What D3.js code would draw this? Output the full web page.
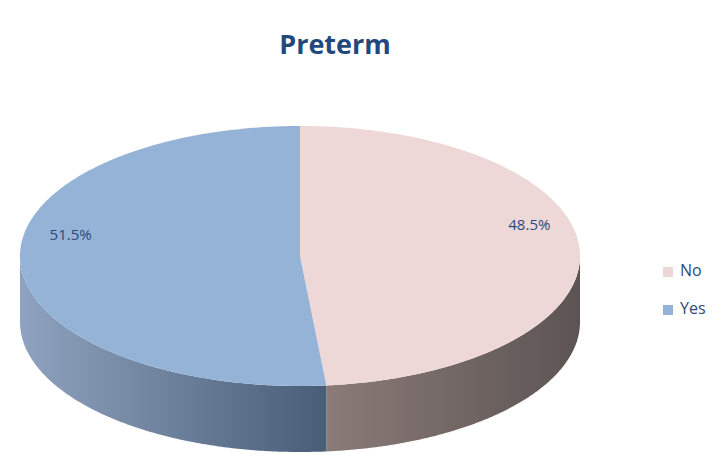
<!DOCTYPE html>
<html>
<head>
<meta charset="utf-8">
<script src="https://cdn.jsdelivr.net/npm/d3@7"></script>
<style>
  body { margin: 0; background: #fff; }
  text { font-family: "Open Sans", "Liberation Sans", sans-serif; }
</style>
</head>
<body>
<div id="chart"></div>
<script>
// Data
const title = 'Preterm';
const categories = ['No', 'Yes'];
const values = [48.5, 51.5];
const topColors = ['#eed8d7', '#95b3d7'];
const sideLight = ['#8a7b78', '#8fa3c0'];
const sideDark = ['#5c5453', '#4a5d77'];

const width = 722, height = 466;
const cx = 300, cy = 256, rx = 280, ry = 130, depth = 66;

const svg = d3.select('#chart').append('svg')
    .attr('width', width)
    .attr('height', height);

const defs = svg.append('defs');

const pie = d3.pie().sort(null).value(d => d.value);
const arcs = pie(categories.map((c, i) => ({ name: c, value: values[i], i })));

// point on the ellipse, angle clockwise from 12 o'clock
const pt = (a, r = 1, dy = 0) => [cx + rx * r * Math.sin(a), cy - ry * r * Math.cos(a) + dy];
const samples = (a0, a1, dy = 0) => {
    const n = Math.max(2, Math.ceil((a1 - a0) / 0.01));
    return d3.range(n + 1).map(k => pt(a0 + (a1 - a0) * k / n, 1, dy));
};
const line = d3.line();

// side walls (only the front half is visible)
arcs.forEach(d => {
    const a0 = Math.max(d.startAngle, Math.PI / 2);
    const a1 = Math.min(d.endAngle, Math.PI * 3 / 2);
    if (a1 <= a0) return;
    const top = samples(a0, a1);
    const bottom = samples(a0, a1, depth).reverse();
    const xs = top.map(p => p[0]);
    const x0 = d3.min(xs), x1 = d3.max(xs);
    const id = 'side' + d.data.i;
    const g = defs.append('linearGradient')
        .attr('id', id)
        .attr('gradientUnits', 'userSpaceOnUse')
        .attr('x1', x0).attr('x2', x1).attr('y1', 0).attr('y2', 0);
    g.append('stop').attr('offset', 0).attr('stop-color', sideLight[d.data.i]);
    g.append('stop').attr('offset', 1).attr('stop-color', sideDark[d.data.i]);
    svg.append('path')
        .attr('d', line(top.concat(bottom)) + 'Z')
        .attr('fill', `url(#${id})`);
});

// top faces
svg.selectAll('.slice')
    .data(arcs)
    .enter()
    .append('path')
    .attr('class', 'slice')
    .attr('d', d => line([[cx, cy]].concat(samples(d.startAngle, d.endAngle))) + 'Z')
    .attr('fill', d => topColors[d.data.i]);

// percentage labels
const total = d3.sum(values);
const labelPos = d => pt((d.startAngle + d.endAngle) / 2, 0.82, -25);
svg.selectAll('.label')
    .data(arcs)
    .enter()
    .append('text')
    .attr('class', 'label')
    .attr('x', d => labelPos(d)[0])
    .attr('y', d => labelPos(d)[1])
    .attr('text-anchor', 'middle')
    .attr('dominant-baseline', 'middle')
    .attr('font-size', 15)
    .attr('fill', '#2c4a78')
    .text(d => (d.value / total * 100).toFixed(1) + '%');

// title
svg.append('text')
    .attr('x', 335)
    .attr('y', 54)
    .attr('text-anchor', 'middle')
    .attr('font-size', 27)
    .attr('font-weight', 'bold')
    .attr('fill', '#1f497d')
    .text(title);

// legend
const legend = svg.selectAll('.legend')
    .data(categories)
    .enter()
    .append('g')
    .attr('class', 'legend')
    .attr('transform', (d, i) => `translate(663, ${267 + i * 38})`);
legend.append('rect')
    .attr('width', 10).attr('height', 10)
    .attr('fill', (d, i) => topColors[i]);
legend.append('text')
    .attr('x', 17).attr('y', 5)
    .attr('dominant-baseline', 'middle')
    .attr('font-size', 16)
    .attr('fill', '#2c4a78')
    .text(d => d);
</script>
</body>
</html>
